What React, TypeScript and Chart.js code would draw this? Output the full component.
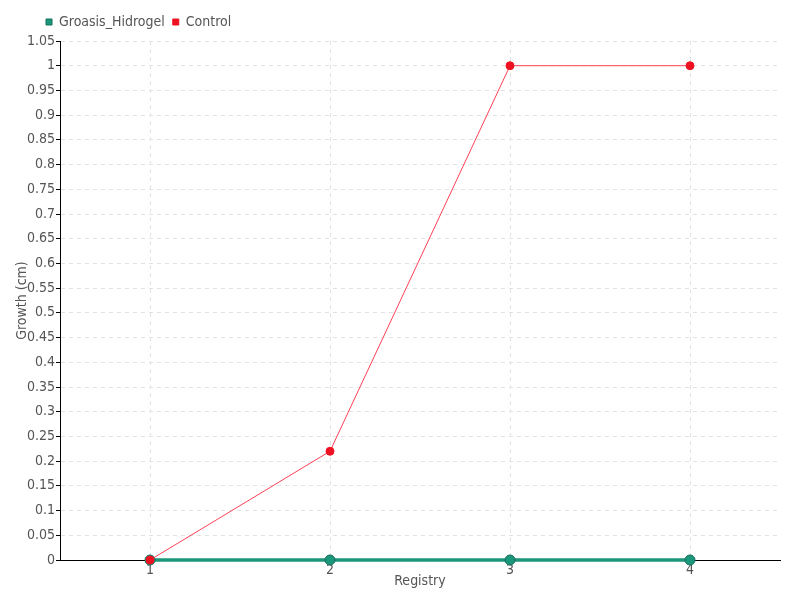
import React, { useEffect, useRef } from "react";
import { Chart, registerables } from "chart.js";

Chart.register(...registerables);

const categories = ["1", "2", "3", "4"];
const groasisValues = [0, 0, 0, 0];
const controlValues = [0, 0.22, 1, 1];
const seriesNames = ["Groasis_Hidrogel", "Control"];

const FONT = "'DejaVu Sans Condensed', 'DejaVu Sans', sans-serif";
const TEXT = "#555555";

export default function App() {
  const ref = useRef<HTMLCanvasElement | null>(null);
  useEffect(() => {
    document.body.style.margin = "0";
    const ctx = ref.current!.getContext("2d")!;
    const chart = new Chart(ctx, {
      type: "line",
      data: {
        labels: categories,
        datasets: [
          {
            label: seriesNames[0],
            data: groasisValues,
            borderColor: "#1a967a",
            backgroundColor: "#1a967a",
            pointBackgroundColor: "#1a967a",
            pointBorderColor: "#17705c",
            pointBorderWidth: 1,
            pointRadius: 5,
            borderWidth: 3.5,
            tension: 0,
            clip: false,
            order: 1,
          } as any,
          {
            label: seriesNames[1],
            data: controlValues,
            borderColor: "#ff4055",
            backgroundColor: "#ee1122",
            pointBackgroundColor: "#ee1122",
            pointBorderColor: "#ee1122",
            pointBorderWidth: 1,
            pointRadius: 4,
            borderWidth: 1,
            tension: 0,
            clip: false,
            order: 0,
          } as any,
        ],
      },
      options: {
        animation: false,
        responsive: false,
        maintainAspectRatio: false,
        layout: { padding: { left: 0, right: 20, top: 9, bottom: 0 } },
        plugins: {
          tooltip: { enabled: false },
          legend: {
            position: "top",
            align: "start",
            labels: {
              usePointStyle: true,
              pointStyle: "rect",
              boxWidth: 6,
              boxHeight: 6,
              padding: 8,
              color: TEXT,
              font: { family: FONT, size: 14 },
              sort: (a: any, b: any) => a.datasetIndex - b.datasetIndex,
            },
          },
        },
        scales: {
          x: {
            offset: true,
            grid: {
              offset: false,
              color: "#e2e2e2",
              drawTicks: true,
              tickColor: "rgba(0,0,0,0)",
              tickLength: 14,
            },
            border: { color: "#000", width: 1, dash: [4, 4] },
            ticks: { color: TEXT, font: { family: FONT, size: 14 }, padding: -12 },
            title: { display: true, text: "Registry", color: TEXT, font: { family: FONT, size: 14 }, padding: { top: 0, bottom: 10 } },
            afterFit: (s: any) => { s.height = 40; },
          },
          y: {
            min: 0,
            max: 1.05,
            grid: {
              color: "#e2e2e2",
              tickColor: "#000",
              tickLength: 4,
            },
            border: { color: "#000", width: 1, dash: [4, 4] },
            ticks: {
              stepSize: 0.05,
              color: TEXT,
              padding: 1,
              font: { family: FONT, size: 14 },
              callback: (v: any) => String(Number(Number(v).toFixed(2))),
            },
            title: { display: true, text: "Growth (cm)", color: TEXT, font: { family: FONT, size: 14 }, padding: { top: 14, bottom: 0 } },
            afterFit: (s: any) => { s.width = 60; },
          },
        },
      },
      plugins: [
        {
          id: "legendShift",
          afterLayout: (c: any) => {
            if (c.legend) {
              c.legend.left = 38;
              c.legend.top -= 2;
            }
          },
        },
      ],
    });
    return () => chart.destroy();
  }, []);
  return (
    <div style={{ position: "fixed", left: 0, top: 0, width: 800, height: 600 }}>
      <canvas ref={ref} width={800} height={600} style={{ width: 800, height: 600 }} />
    </div>
  );
}
